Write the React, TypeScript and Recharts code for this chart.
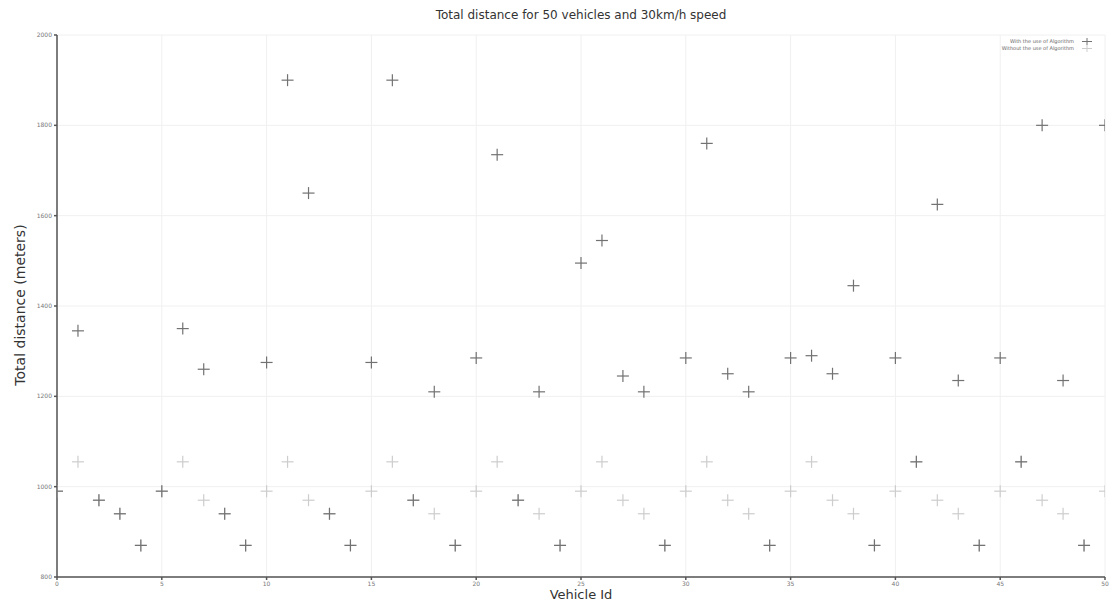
import { CartesianGrid, Scatter, ScatterChart, XAxis, YAxis } from "recharts";

const vehicleIds = [
  0, 1, 2, 3, 4, 5, 6, 7, 8, 9, 10, 11, 12, 13, 14, 15, 16, 17, 18, 19, 20, 21, 22, 23, 24, 25,
  26, 27, 28, 29, 30, 31, 32, 33, 34, 35, 36, 37, 38, 39, 40, 41, 42, 43, 44, 45, 46, 47, 48, 49,
  50,
];

const withAlgorithm = [
  990, 1345, 970, 940, 870, 990, 1350, 1260, 940, 870, 1275, 1900, 1650, 940, 870, 1275, 1900,
  970, 1210, 870, 1285, 1735, 970, 1210, 870, 1495, 1545, 1245, 1210, 870, 1285, 1760, 1250,
  1210, 870, 1285, 1290, 1250, 1445, 870, 1285, 1055, 1625, 1235, 870, 1285, 1055, 1800, 1235,
  870, 1800,
];

const withoutAlgorithm = [
  990, 1055, 970, 940, 870, 990, 1055, 970, 940, 870, 990, 1055, 970, 940, 870, 990, 1055, 970,
  940, 870, 990, 1055, 970, 940, 870, 990, 1055, 970, 940, 870, 990, 1055, 970, 940, 870, 990,
  1055, 970, 940, 870, 990, 1055, 970, 940, 870, 990, 1055, 970, 940, 870, 990,
];

const xTicks = [0, 5, 10, 15, 20, 25, 30, 35, 40, 45, 50];
const yTicks = [800, 1000, 1200, 1400, 1600, 1800, 2000];

const withData = vehicleIds.map((id, i) => ({ id, distance: withAlgorithm[i] }));
const withoutData = vehicleIds.map((id, i) => ({ id, distance: withoutAlgorithm[i] }));

const font = "'DejaVu Sans', sans-serif";
const darkColor = "#727272";
const lightColor = "#cdcdcd";

// plus-sign marker, matplotlib style
function Plus(color: string, arm: number) {
  return (props: any) => {
    const { cx, cy } = props;
    if (cx == null || cy == null) return <g />;
    return (
      <g stroke={color} strokeWidth={1.2}>
        <line x1={cx - arm} y1={cy} x2={cx + arm} y2={cy} />
        <line x1={cx} y1={cy - arm} x2={cx} y2={cy + arm} />
      </g>
    );
  };
}

function LegendBox() {
  const rows = [
    { label: "With the use of Algorithm", color: darkColor },
    { label: "Without the use of Algorithm", color: lightColor },
  ];
  return (
    <div
      style={{
        position: "absolute",
        top: 38,
        right: 12,
        fontFamily: font,
        fontSize: 5,
        color: "#666",
        lineHeight: "7px",
      }}
    >
      {rows.map((r) => (
        <div key={r.label} style={{ display: "flex", justifyContent: "flex-end", alignItems: "center" }}>
          <span>{r.label}</span>
          <svg width={24} height={7}>
            <line x1={8} y1={3.5} x2={18} y2={3.5} stroke={r.color} strokeWidth={1} />
            <line x1={13} y1={0} x2={13} y2={7} stroke={r.color} strokeWidth={1} />
          </svg>
        </div>
      ))}
    </div>
  );
}

export default function App() {
  return (
    <div
      style={{
        position: "absolute",
        left: 0,
        top: 0,
        width: 1110,
        height: 605,
        background: "#fff",
        fontFamily: font,
      }}
    >
      <div
        style={{
          position: "absolute",
          top: 8,
          left: 57,
          width: 1048,
          textAlign: "center",
          fontSize: 12,
          color: "#333",
        }}
      >
        Total distance for 50 vehicles and 30km/h speed
      </div>
      <div
        style={{
          position: "absolute",
          left: 20,
          top: 305,
          transform: "translate(-50%, -50%) rotate(-90deg)",
          whiteSpace: "nowrap",
          fontSize: 14,
          color: "#333",
        }}
      >
        Total distance (meters)
      </div>
      <div
        style={{
          position: "absolute",
          top: 587,
          left: 57,
          width: 1048,
          textAlign: "center",
          fontSize: 13,
          color: "#333",
        }}
      >
        Vehicle Id
      </div>
      <ScatterChart
        width={1110}
        height={605}
        margin={{ top: 35, right: 5, bottom: 8, left: 20 }}
      >
        <CartesianGrid stroke="#f0f0f0" strokeWidth={1} />
        <XAxis
          type="number"
          dataKey="id"
          domain={[0, 50]}
          ticks={xTicks}
          allowDataOverflow
          height={20}
          stroke="#555"
          strokeWidth={1.5}
          tickSize={3}
          tick={{ fontSize: 6, fill: "#777", fontFamily: font }}
        />
        <YAxis
          type="number"
          dataKey="distance"
          domain={[800, 2000]}
          ticks={yTicks}
          allowDataOverflow
          width={37}
          stroke="#555"
          strokeWidth={1.5}
          tickSize={3}
          tick={{ fontSize: 6, fill: "#777", fontFamily: font }}
        />
        <XAxis xAxisId="top" orientation="top" type="number" domain={[0, 50]} ticks={xTicks} tick={false} height={0} stroke="#555" strokeWidth={1.5} tickSize={3} />
        <YAxis yAxisId="right" orientation="right" type="number" domain={[800, 2000]} ticks={yTicks} tick={false} width={0} stroke="#555" strokeWidth={1.5} tickSize={3} />
        <Scatter
          name="Without the use of Algorithm"
          data={withoutData}
          shape={Plus(lightColor, 6)}
          isAnimationActive={false}
        />
        <Scatter
          name="With the use of Algorithm"
          data={withData}
          shape={Plus(darkColor, 6)}
          isAnimationActive={false}
        />
      </ScatterChart>
      <LegendBox />
    </div>
  );
}
